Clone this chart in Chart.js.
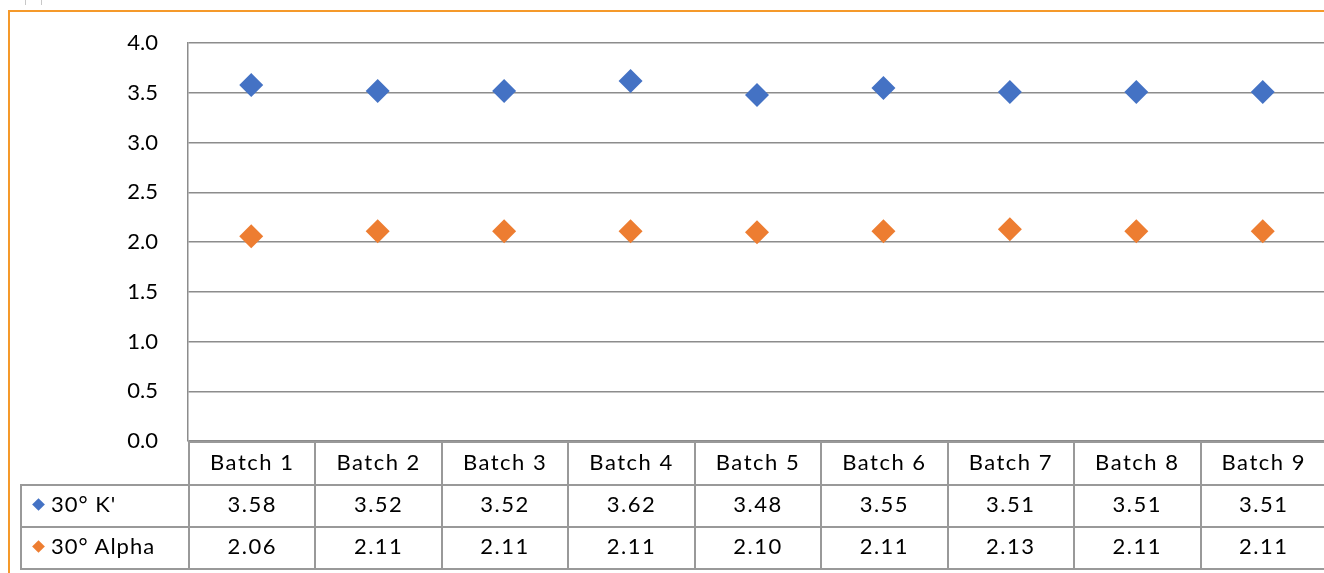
<!DOCTYPE html>
<html>
<head>
<meta charset="utf-8">
<script src="https://cdn.jsdelivr.net/npm/chart.js@4/dist/chart.umd.min.js"></script>
<style>
    html, body { margin: 0; padding: 0; background: #fff; overflow: hidden; }
    #wrap { position: relative; width: 1324px; height: 573px; overflow: hidden; }
    #frameTop { position: absolute; left: 8px; top: 10px; width: 1320px; height: 2px; background: #f5992a; }
    #frameLeft { position: absolute; left: 8px; top: 10px; width: 2px; height: 570px; background: #f5992a; }
    .nub { position: absolute; top: 0; width: 1px; height: 5px; background: #c8c8c8; }
    #chart { position: absolute; left: 0; top: 0; }
    #dataTable {
        position: absolute; border-collapse: collapse; table-layout: fixed;
        font-family: Lato, "Open Sans", sans-serif; font-size: 22px; color: #000;
        letter-spacing: 1.5px;
    }
    #dataTable td { border: 2px solid #999; padding: 0 0 5px 0; text-align: center; white-space: nowrap; }
    #dataTable td.blank { border: none; }
    #dataTable td.lbl { text-align: left; padding-left: 12px; letter-spacing: 1px; }
    .mark { display: inline-block; width: 9px; height: 9px; transform: rotate(45deg); margin-right: 8px; vertical-align: 3px; }
</style>
</head>
<body>
<div id="wrap">
    <div class="nub" style="left:25px"></div>
    <div class="nub" style="left:41px"></div>
    <div id="frameTop"></div>
    <div id="frameLeft"></div>
    <canvas id="chart" width="1326" height="573"></canvas>
    <table id="dataTable"></table>
</div>
<script>
const batches = ["Batch 1", "Batch 2", "Batch 3", "Batch 4", "Batch 5", "Batch 6", "Batch 7", "Batch 8", "Batch 9"]
const kValues = [3.58, 3.52, 3.52, 3.62, 3.48, 3.55, 3.51, 3.51, 3.51]
const alphaValues = [2.06, 2.11, 2.11, 2.11, 2.10, 2.11, 2.13, 2.11, 2.11]
const seriesNames = ["30° K'", "30° Alpha"]
const seriesColors = ["#4472c4", "#ed7d31"]

const ctx = document.getElementById("chart").getContext("2d")

const chart = new Chart(ctx, {
    type: "line",
    data: {
        labels: batches,
        datasets: [kValues, alphaValues].map((vals, i) => ({
            label: seriesNames[i],
            data: vals,
            showLine: false,
            pointStyle: "rectRot",
            pointRadius: 12,
            pointBorderWidth: 0,
            pointBackgroundColor: seriesColors[i],
            pointBorderColor: seriesColors[i]
        }))
    },
    options: {
        responsive: false,
        animation: false,
        layout: { autoPadding: false, padding: { top: 42, bottom: 132, left: 0, right: 0 } },
        plugins: { legend: { display: false }, tooltip: { enabled: false } },
        scales: {
            x: { display: false, offset: true },
            y: {
                min: 0, max: 4,
                afterFit: (scale) => { scale.width = 188 },
                ticks: {
                    stepSize: 0.5,
                    padding: 30,
                    color: "#000",
                    font: { family: "Lato", size: 22 },
                    callback: (v) => v.toFixed(1)
                },
                grid: { color: "#8c8c8c", lineWidth: 1.5, drawTicks: false },
                border: { color: "#8c8c8c", width: 1.5 }
            }
        }
    }
})

// data table under the plot, columns follow the category scale
const xs = chart.scales.x
const half = (xs.getPixelForValue(1) - xs.getPixelForValue(0)) / 2
const left0 = xs.getPixelForValue(0) - half
const table = document.getElementById("dataTable")
table.style.left = "20px"
table.style.top = chart.chartArea.bottom + "px"

const colgroup = document.createElement("colgroup")
const firstCol = document.createElement("col")
firstCol.style.width = (left0 - 20) + "px"
colgroup.appendChild(firstCol)
batches.forEach(() => {
    const c = document.createElement("col")
    c.style.width = (half * 2) + "px"
    colgroup.appendChild(c)
})
table.appendChild(colgroup)
table.style.width = (left0 - 20 + half * 2 * batches.length) + "px"

const head = document.createElement("tr")
head.style.height = "43px"
const blank = document.createElement("td")
blank.className = "blank"
head.appendChild(blank)
batches.forEach(b => {
    const td = document.createElement("td")
    td.textContent = b
    head.appendChild(td)
})
table.appendChild(head)

;[kValues, alphaValues].forEach((vals, i) => {
    const tr = document.createElement("tr")
    tr.style.height = "42px"
    const lbl = document.createElement("td")
    lbl.className = "lbl"
    const mark = document.createElement("span")
    mark.className = "mark"
    mark.style.background = seriesColors[i]
    lbl.appendChild(mark)
    lbl.appendChild(document.createTextNode(seriesNames[i]))
    tr.appendChild(lbl)
    vals.forEach(v => {
        const td = document.createElement("td")
        td.textContent = v.toFixed(2)
        tr.appendChild(td)
    })
    table.appendChild(tr)
})
</script>
</body>
</html>
